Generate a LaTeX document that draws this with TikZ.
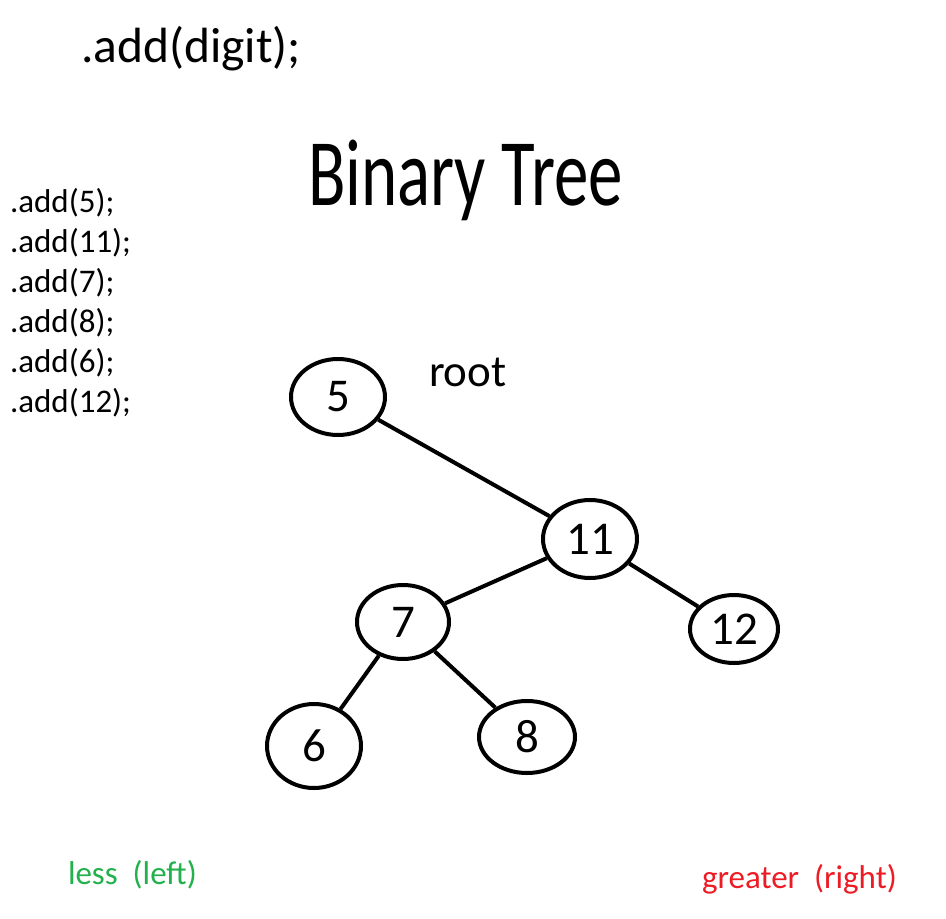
\documentclass[tikz,border=0pt]{standalone}
\usepackage{fontspec}
\setmainfont{Carlito}
\usetikzlibrary{shapes.geometric}
\definecolor{lessgreen}{HTML}{22B14C}
\definecolor{greatred}{HTML}{ED1C24}
\tikzset{
  treenode/.style={draw=black, line width=4pt, ellipse, inner sep=0pt, font=\fontsize{47}{56}\selectfont},
  edge/.style={line width=4pt},
  txt/.style={anchor=base west, inner sep=0pt, outer sep=0pt},
  listtxt/.style={txt, font=\fontsize{33}{40}\selectfont}
}
\begin{document}
\begin{tikzpicture}[x=1pt,y=-1pt]
\useasboundingbox[fill=white] (0,0) rectangle (946,919);
\node[txt, font=\fontsize{49.5}{59}\selectfont] (title1) at (81,62) {.add(digit);};
\node[txt, font=\fontsize{69}{80}\selectfont] (title2) at (308,205) {\scalebox{1}[1.38]{Binary Tree}};
\node[listtxt] (l1) at (10,212) {.add(5);};
\node[listtxt] (l2) at (10,252) {.add(11);};
\node[listtxt] (l3) at (10,292) {.add(7);};
\node[listtxt] (l4) at (10,332) {.add(8);};
\node[listtxt] (l5) at (10,372) {.add(6);};
\node[listtxt] (l6) at (10,412) {.add(12);};
\node[txt, font=\fontsize{45}{54}\selectfont] (root) at (429,386) {root};

\node[treenode, minimum width=94pt, minimum height=76pt] (n5) at (338,397) {5};
\node[treenode, minimum width=94pt, minimum height=78pt] (n11) at (590,539) {11};
\node[treenode, minimum width=92pt, minimum height=74pt] (n7) at (403,622) {7};
\node[treenode, minimum width=88pt, minimum height=68pt] (n12) at (734,629) {12};
\node[treenode, minimum width=94pt, minimum height=84pt] (n6) at (314,746) {6};
\node[treenode, minimum width=96pt, minimum height=72pt] (n8) at (527,737) {8};

\draw[edge] (n5) -- (n11);
\draw[edge] (n11) -- (n7);
\draw[edge] (n11) -- (n12);
\draw[edge] (n7) -- (n6);
\draw[edge] (n7) -- (n8);

\node[txt, font=\fontsize{33}{40}\selectfont, text=lessgreen] (less) at (68,884) {less\ \ (left)};
\node[txt, font=\fontsize{33}{40}\selectfont, text=greatred] (greater) at (702,888) {greater\ \ (right)};
\end{tikzpicture}
\end{document}
